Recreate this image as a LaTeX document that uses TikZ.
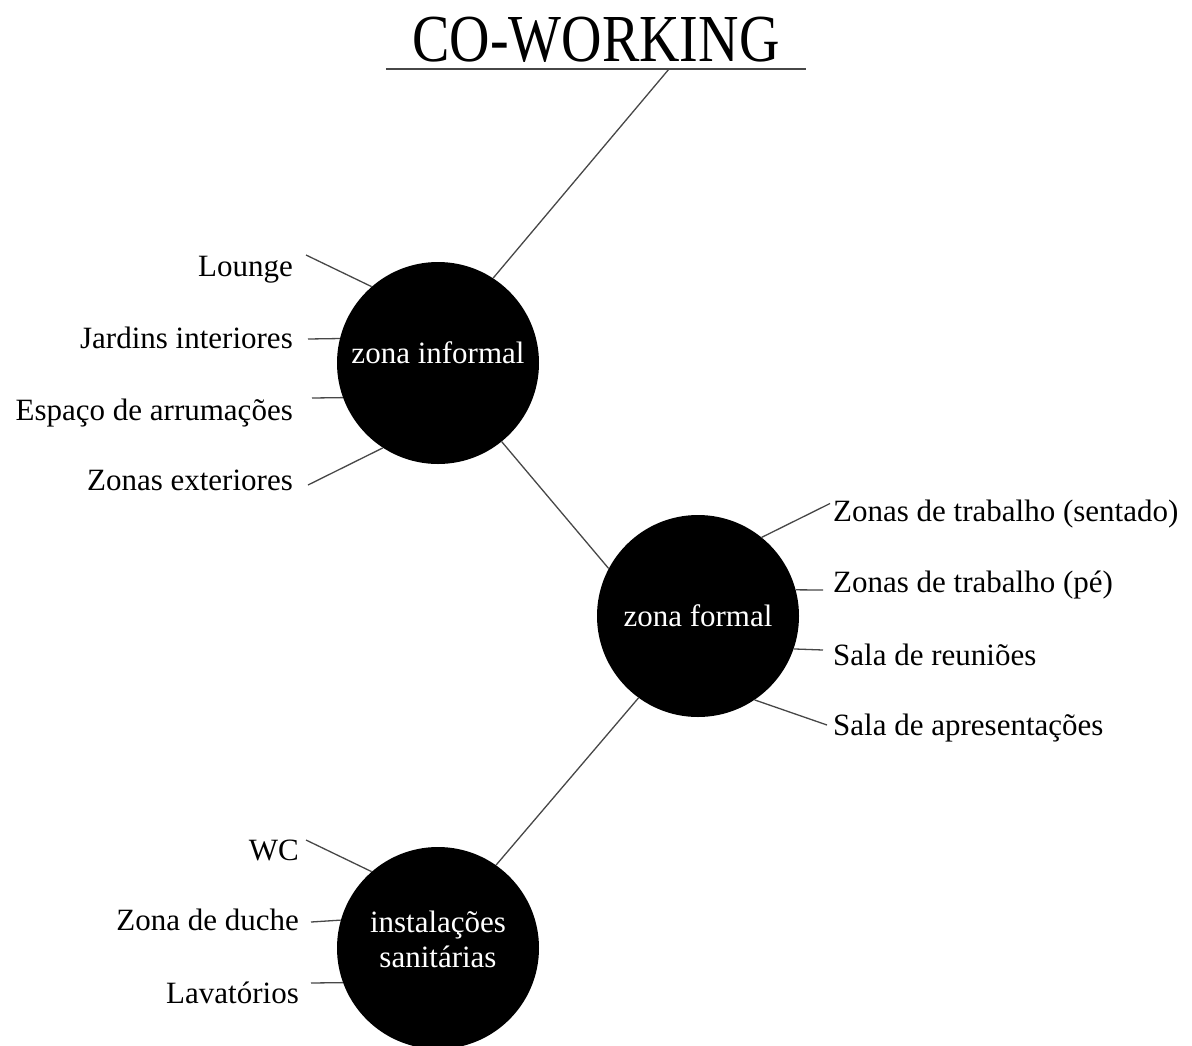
\documentclass[tikz,border=0pt]{standalone}
\usepackage{fontspec}
\setmainfont{Liberation Serif}
\usetikzlibrary{positioning}

\begin{document}
\begin{tikzpicture}[x=1pt,y=-1pt,
  zone/.style={circle,fill=black,minimum size=202pt,inner sep=0pt,text=white,align=center,font=\fontsize{31}{35}\selectfont},
  item/.style={inner sep=0pt,text height=22pt,text depth=7pt,font=\fontsize{31}{35}\selectfont},
  leaf/.style={draw=black!72,line width=1.3pt}]
\useasboundingbox (0,0) rectangle (1192,1045);

\node[inner sep=0pt,minimum width=420pt,text depth=7pt,anchor=south,font=\fontsize{56}{60}\selectfont] (title) at (596,69) {\scalebox{1}[1.2]{CO-WORKING}};
\draw[leaf] (title.south west) -- (title.south east);

\node[zone,text depth=21pt] (informal) at (438,363) {zona informal};
\node[zone] (formal) at (698,616) {zona formal};
\node[zone,text depth=18pt] (sanitarias) at (438,948) {instalações\\sanitárias};

\draw[leaf] ([xshift=73pt]title.south) -- (informal.57);
\draw[leaf] (informal.309) -- (formal.152);
\draw[leaf] (formal.234) -- (sanitarias.55);

% zona informal
\node[item,anchor=east] (lounge) at (293,268.5) {Lounge};
\node[item,anchor=east] (jardins) at (293,340.5) {Jardins interiores};
\node[item,anchor=east] (arrumacoes) at (293,412.5) {Espaço de arrumações};
\node[item,anchor=east] (exteriores) at (293,482.5) {Zonas exteriores};
\draw[leaf] ([shift={(13,-13.5)}]lounge.east) -- (informal.131);
\draw[leaf] ([shift={(15,-1.5)}]jardins.east) -- (informal.166);
\draw[leaf] ([shift={(19,-14.5)}]arrumacoes.east) -- (informal.200);
\draw[leaf] ([shift={(15,2.5)}]exteriores.east) -- (informal.237);

% zona formal
\node[item,anchor=west] (sentado) at (833,513.5) {Zonas de trabalho (sentado)};
\node[item,anchor=west] (pe) at (833,584.5) {Zonas de trabalho (pé)};
\node[item,anchor=west] (reunioes) at (833,657.5) {Sala de reuniões};
\node[item,anchor=west] (apresentacoes) at (833,727.5) {Sala de apresentações};
\draw[leaf] ([shift={(-3,-10)}]sentado.west) -- (formal.51);
\draw[leaf] ([shift={(-10,5.5)}]pe.west) -- (formal.15);
\draw[leaf] ([shift={(-10,-7.5)}]reunioes.west) -- (formal.-19);
\draw[leaf] ([shift={(-6,-2.5)}]apresentacoes.west) -- (formal.-56);

% instalações sanitárias
\node[item,anchor=east] (wc) at (299,852.5) {WC};
\node[item,anchor=east] (duche) at (299,922.5) {Zona de duche};
\node[item,anchor=east] (lavatorios) at (299,995.5) {Lavatórios};
\draw[leaf] ([shift={(7,-12.5)}]wc.east) -- (sanitarias.131);
\draw[leaf] ([shift={(12,-0.5)}]duche.east) -- (sanitarias.164);
\draw[leaf] ([shift={(12,-12.5)}]lavatorios.east) -- (sanitarias.200);
\end{tikzpicture}
\end{document}
